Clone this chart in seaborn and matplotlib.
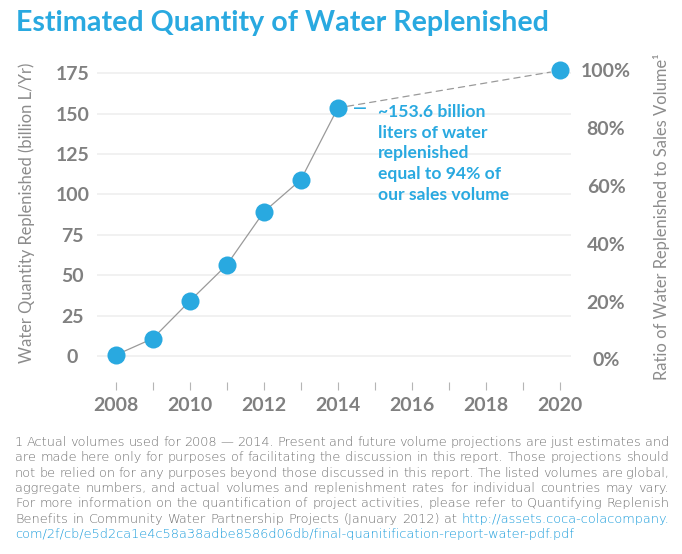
import matplotlib
matplotlib.use('Agg')
import matplotlib.pyplot as plt
from matplotlib.patches import ConnectionPatch
import seaborn as sns

# Dados
years = [2008, 2009, 2010, 2011, 2012, 2013, 2014]
volume = [0.6, 10.8, 34.0, 56.4, 89.2, 109.1, 153.6]
target_year = 2020
target_ratio = 100
vol_ticks = [0, 25, 50, 75, 100, 125, 150, 175]
ratio_ticks = [0, 20, 40, 60, 80, 100]
year_ticks = list(range(2008, 2021))
year_labels = [str(y) if y % 2 == 0 else '' for y in year_ticks]

title = 'Estimated Quantity of Water Replenished'
left_label = 'Water Quantity Replenished (billion L/Yr)'
right_label = 'Ratio of Water Replenished to Sales Volume\u00b9'
note = ('~153.6 billion\nliters of water\nreplenished\n'
        'equal to 94% of\nour sales volume')
footnote = [
    [('1 Actual volumes used for 2008 \u2014 2014. Present and future volume '
      'projections are just estimates and', 'g')],
    [('are made here only for purposes of facilitating the discussion in this '
      'report. Those projections should', 'g')],
    [('not be relied on for any purposes beyond those discussed in this report. '
      'The listed volumes are global,', 'g')],
    [('aggregate numbers, and actual volumes and replenishment rates for '
      'individual countries may vary.', 'g')],
    [('For more information on the quantification of project activities, '
      'please refer to Quantifying Replenish', 'g')],
    [('Benefits in Community Water Partnership Projects (January 2012) at', 'g'),
     ('http://assets.coca-colacompany.', 'b')],
    [('com/2f/cb/e5d2ca1e4c58a38adbe8586d06db/final-quanitification-report-water-pdf.pdf', 'b')],
]

BLUE = '#29a9e0'
LINK = '#1a9cdb'
GRAY = '#808080'
LIGHT = '#8c8c8c'
NOTE = '#707070'
W, H = 682, 554


def fx(px):
    return px / W


def fy(py):
    return 1 - py / H


sns.set_theme(style='white')
plt.rcParams['font.family'] = ['Lato', 'DejaVu Sans']

fig = plt.figure(figsize=(W / 100, H / 100), dpi=100)
renderer = fig.canvas.get_renderer()

ax = fig.add_axes([fx(96.7), fy(381.7), (571 - 96.7) / W, (381.7 - 62) / H])
ax.set_xlim(2007.487, 2020.296)
ax.set_ylim(-15.9, 182.0)

# serie real
sns.lineplot(x=years, y=volume, ax=ax, color='#9a9a9a', linewidth=0.9,
             marker='o', markersize=13, markerfacecolor=BLUE,
             markeredgewidth=0, zorder=3)

ax.set_yticks(vol_ticks, labels=[str(v) for v in vol_ticks],
              fontweight='bold', ha='center')
ax.set_xticks(year_ticks, labels=year_labels, fontweight='bold')
ax.yaxis.grid(True, color='#f0f0f0', linewidth=1.3)
ax.xaxis.grid(False)
ax.tick_params(axis='y', left=False, length=0, pad=17.3,
               labelsize=14, labelcolor=GRAY)
ax.tick_params(axis='x', bottom=True, length=5.8, width=0.8, color='#b5b5b5',
               direction='out', pad=5, labelsize=14, labelcolor=GRAY)
ax.set_xlabel('')
ax.set_ylabel('')
for s in ax.spines.values():
    s.set_visible(False)

# eixo da direita (razao)
ax2 = ax.twinx()
ax2.set_ylim(-7.76, 102.94)
sns.scatterplot(x=[target_year], y=[target_ratio], ax=ax2, s=13 ** 2,
                color=BLUE, linewidth=0, clip_on=False, zorder=3)
ax2.set_yticks(ratio_ticks, labels=[f'{r}%' for r in ratio_ticks],
               fontweight='bold', ha='center')
ax2.tick_params(axis='y', right=False, length=0, pad=25.2,
                labelsize=14, labelcolor=GRAY)
ax2.grid(False)
ax2.set_ylabel('')
for s in ax2.spines.values():
    s.set_visible(False)

con = ConnectionPatch(xyA=(years[-1], volume[-1]), coordsA=ax.transData,
                      xyB=(target_year, target_ratio), coordsB=ax2.transData,
                      color='#9a9a9a', linewidth=0.9, linestyle=(0, (5, 4)),
                      shrinkA=7, shrinkB=7)
fig.add_artist(con)

# anotacao
ax.annotate('\u2014', xy=(years[-1], volume[-1]), xytext=(10.6, 0),
            textcoords='offset points', ha='left', va='center',
            color=BLUE, fontsize=12.6, fontweight='bold')
ax.annotate(note, xy=(years[-1], volume[-1]), xytext=(28.6, 3),
            textcoords='offset points', ha='left', va='top',
            color=BLUE, fontsize=12.6, fontweight='bold', linespacing=1.37,
            annotation_clip=False)

# titulo
t = fig.text(fx(16), fy(30.7), title, color=BLUE, fontsize=21,
             fontweight='bold', ha='left', va='baseline')
t.set_fontsize(21 * 532 / t.get_window_extent(renderer).width)

fig.text(fx(26.7), fy(212.5), left_label, rotation=90, ha='center',
         va='center', fontsize=11.9, color=LIGHT)
fig.text(fx(662), fy(216.5), right_label, rotation=90, ha='center',
         va='center', fontsize=11.9, color=LIGHT)

# nota de rodape, justificada
x0, x1 = 15, 669
base = 446
step = 15.35
for i, line in enumerate(footnote):
    words = []
    for chunk, c in line:
        for w in chunk.split(' '):
            words.append((w, LINK if c == 'b' else NOTE))
    texts = [fig.text(0, fy(base + i * step), w, color=c, fontsize=9.3,
                      family=['DejaVu Sans'], fontweight='light',
                      ha='left', va='baseline') for w, c in words]
    widths = [tx.get_window_extent(renderer).width for tx in texts]
    gap = (x1 - x0 - sum(widths)) / (len(texts) - 1) if len(texts) > 1 else 0
    x = x0
    for tx, w in zip(texts, widths):
        tx.set_x(fx(x))
        x += w + gap

fig.savefig('out.png', dpi=100)
